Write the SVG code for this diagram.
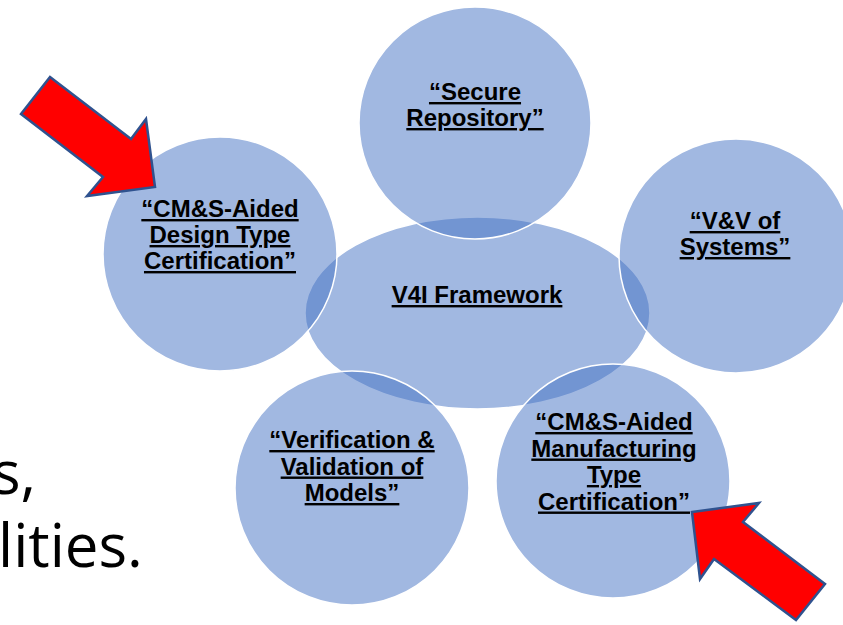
<svg xmlns="http://www.w3.org/2000/svg" width="843" height="625" viewBox="0 0 843 625">
<style>
.blob{fill:#4472C4;fill-opacity:0.5;stroke:#FFFFFF;stroke-width:1.5}
.lbl{font-family:"Liberation Sans",Arial,sans-serif;font-weight:bold;font-size:24px;fill:#000;text-anchor:middle;text-decoration:underline}
.body{font-family:"Open Sans","Noto Sans",sans-serif;font-size:60px;fill:#000}
.arrow{fill:#FF0000;stroke:#2F528F;stroke-width:2.5;stroke-linejoin:miter}
</style>
<rect width="843" height="625" fill="#FFFFFF"/>
<text class="body" x="36" y="494" text-anchor="end">s,</text>
<text class="body" x="-2" y="567">lities.</text>
<g id="center">
<ellipse class="blob" cx="477.5" cy="313" rx="172.5" ry="96"/>
<text class="lbl" x="477" y="303">V4I Framework</text>
</g>
<g id="secure">
<circle class="blob" cx="475" cy="123" r="116"/>
<text class="lbl" x="475" y="100">“Secure</text>
<text class="lbl" x="475" y="126">Repository”</text>
</g>
<g id="design">
<circle class="blob" cx="220" cy="254" r="117"/>
<text class="lbl" x="220" y="217">“CM&amp;S-Aided</text>
<text class="lbl" x="220" y="243">Design Type</text>
<text class="lbl" x="220" y="269">Certification”</text>
</g>
<g id="vv">
<circle class="blob" cx="736" cy="256" r="117"/>
<text class="lbl" x="735" y="229">“V&amp;V of</text>
<text class="lbl" x="735" y="255">Systems”</text>
</g>
<g id="models">
<circle class="blob" cx="352" cy="488" r="117"/>
<text class="lbl" x="352" y="448">“Verification &amp;</text>
<text class="lbl" x="352" y="474.5">Validation of</text>
<text class="lbl" x="352" y="501">Models”</text>
</g>
<g id="manufacturing">
<circle class="blob" cx="613" cy="481" r="117"/>
<text class="lbl" x="614" y="430">“CM&amp;S-Aided</text>
<text class="lbl" x="614" y="456.5">Manufacturing</text>
<text class="lbl" x="614" y="483">Type</text>
<text class="lbl" x="614" y="509.5">Certification”</text>
</g>
<g id="connectors">
<polygon class="arrow" points="50,77 131,139 146,119 155,187 87,196 103,177 21,114"/>
<polygon class="arrow" points="692,512 759,503 743,522 825,584 796,620 714,559 700,579"/>
</g>
</svg>
